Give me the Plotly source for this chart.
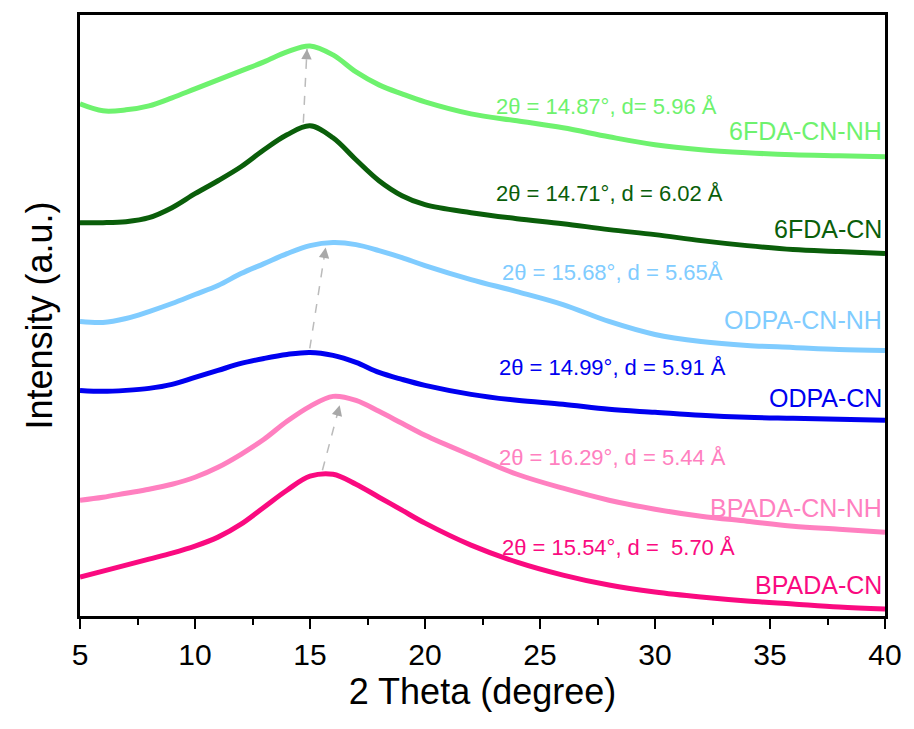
import plotly.graph_objects as go

# 2 Theta grid (degree)
two_theta = [5, 6, 7, 8, 9, 10, 11, 12, 13, 14, 15, 16, 17, 18, 19, 20,
             22, 24, 26, 28, 30, 32, 34, 36, 38, 40]

# Intensities (a.u., stacked with offsets as in the figure)
fda_nh = [513, 506, 507, 511, 519, 528, 537, 546, 555, 565, 571, 562, 545, 532, 523, 515,
          503, 496, 489, 480, 472, 467, 464, 462, 461, 460]
fda_cn = [394, 394, 395, 399, 409, 423, 436, 450, 467, 482, 491, 479, 457, 436, 421, 412,
          404, 398, 393, 387, 382, 376, 371, 367, 365, 363]
odpa_nh = [295, 294, 298, 305, 313, 322, 331, 343, 353, 363, 371, 374, 372, 366, 359, 351,
           337, 325, 312, 295, 282, 275, 271, 269, 267, 266]
odpa_cn = [226, 225, 226, 228, 232, 239, 246, 253, 258, 262, 264, 261, 254, 244, 237, 231,
           222, 216, 212, 207, 204, 201, 199, 198, 197, 196]
bpada_nh = [116, 119, 123, 127, 132, 139, 149, 162, 177, 195, 210, 220, 216, 205, 193, 181,
            161, 142, 128, 116, 107, 100, 95, 90, 87, 84]
bpada_cn = [39, 45, 51, 57, 63, 70, 79, 92, 109, 126, 140, 142, 132, 119, 106, 93,
            71, 54, 41, 31, 24, 19, 15, 12, 9, 7]

names = ["6FDA-CN-NH", "6FDA-CN", "ODPA-CN-NH", "ODPA-CN", "BPADA-CN-NH", "BPADA-CN"]
series = [fda_nh, fda_cn, odpa_nh, odpa_cn, bpada_nh, bpada_cn]
colors = ["#6EF26E", "#0A5E0A", "#80CCFF", "#0000F0", "#FF80C0", "#FA0A80"]

# peak annotations
peak_texts = ["2θ = 14.87°, d= 5.96 Å", "2θ = 14.71°, d = 6.02 Å",
              "2θ = 15.68°, d = 5.65Å", "2θ = 14.99°, d = 5.91 Å",
              "2θ = 16.29°, d = 5.44 Å", "2θ = 15.54°, d =\u00a0 5.70 Å"]
peak_text_x = [23.0, 23.0, 23.25, 23.15, 23.15, 23.25]
peak_text_y = [510, 423, 344, 249, 159, 69]
label_y = [486, 388, 296, 218, 108, 31]

# shift arrows: (tail 2θ, tail I) -> (tip 2θ, tip I)
arrow_tail_x = [14.71, 14.99, 15.54]
arrow_tail_y = [494, 268, 146]
arrow_tip_x = [14.87, 15.68, 16.29]
arrow_tip_y = [568, 369, 211]

FONT = "Arial, 'Liberation Sans', sans-serif"

fig = go.Figure()
for name, ys, c in zip(names, series, colors):
    fig.add_trace(go.Scatter(x=two_theta, y=ys, mode="lines", name=name,
                             line=dict(color=c, width=5, shape="spline", smoothing=1.0),
                             showlegend=False))

annotations = []
for t, tx, ty, c in zip(peak_texts, peak_text_x, peak_text_y, colors):
    annotations.append(dict(x=tx, y=ty, xref="x", yref="y", text=t, showarrow=False,
                            xanchor="left", yanchor="middle",
                            font=dict(family=FONT, size=22, color=c)))
for name, ly, c in zip(names, label_y, colors):
    annotations.append(dict(x=40, y=ly, xref="x", yref="y", text=name, showarrow=False,
                            xanchor="right", yanchor="middle", xshift=-1,
                            font=dict(family=FONT, size=25, color=c)))

shapes = []
for x0, y0, x1, y1 in zip(arrow_tail_x, arrow_tail_y, arrow_tip_x, arrow_tip_y):
    shapes.append(dict(type="line", xref="x", yref="y", x0=x0, y0=y0, x1=x1, y1=y1,
                       line=dict(color="#BBBBBB", width=1.5, dash="dash")))
    # arrow head only: short tail offset along the line direction (pixels)
    dxp = (x1 - x0) * 23.2
    dyp = (y1 - y0) * 1.0
    L = (dxp ** 2 + dyp ** 2) ** 0.5
    annotations.append(dict(x=x1, y=y1, xref="x", yref="y", text="", showarrow=True,
                            ax=-dxp / L * 12, ay=dyp / L * 12,
                            arrowhead=2, arrowsize=1.3, arrowwidth=1.6,
                            arrowcolor="#A8A8A8"))

fig.update_layout(
    width=914, height=729,
    margin=dict(l=80, r=22, t=14, b=113),
    plot_bgcolor="white", paper_bgcolor="white",
    font=dict(family=FONT, color="black"),
    annotations=annotations, shapes=shapes,
    xaxis=dict(range=[5, 40], tickmode="linear", tick0=5, dtick=5,
               ticks="outside", ticklen=10, tickwidth=2, tickcolor="black",
               minor=dict(ticks="outside", ticklen=6, tickwidth=2, dtick=2.5,
                          tick0=5, tickcolor="black"),
               showline=True, linecolor="black", linewidth=2.5, mirror=True,
               showgrid=False, zeroline=False,
               tickfont=dict(family=FONT, size=30, color="black"),
               title=dict(text="2 Theta (degree)", standoff=10,
                          font=dict(family=FONT, size=36, color="black"))),
    yaxis=dict(range=[0, 602], showticklabels=False, ticks="",
               showline=True, linecolor="black", linewidth=2.5, mirror=True,
               showgrid=False, zeroline=False,
               title=dict(text="Intensity (a.u.)", standoff=14,
                          font=dict(family=FONT, size=36, color="black"))),
)

fig.write_html("out.html")
